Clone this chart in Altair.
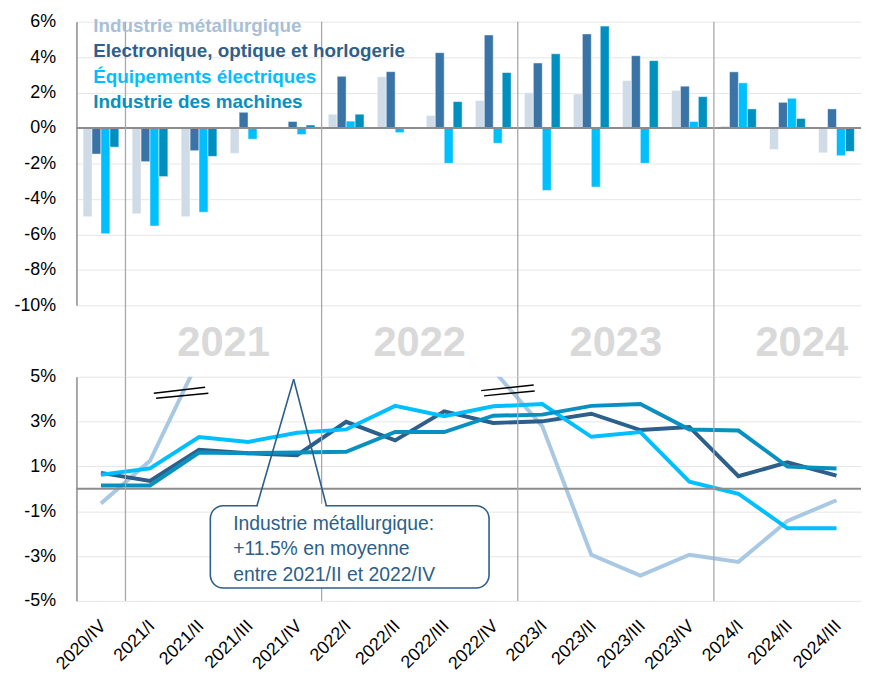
import altair as alt
import pandas as pd

quarters = ["2020/IV", "2021/I", "2021/II", "2021/III", "2021/IV",
            "2022/I", "2022/II", "2022/III", "2022/IV",
            "2023/I", "2023/II", "2023/III", "2023/IV",
            "2024/I", "2024/II", "2024/III"]

series = ["Industrie métallurgique", "Electronique, optique et horlogerie",
          "Équipements électriques", "Industrie des machines"]

# Top panel: bars (%)
metal_bar = [-5.0, -4.84, -5.0, -1.43, 0.0, 0.78, 2.89, 0.71, 1.55, 1.99, 1.92, 2.68, 2.12, 0.11, -1.21, -1.4]
elec_bar = [-1.47, -1.9, -1.28, 0.89, 0.37, 2.92, 3.18, 4.25, 5.25, 3.67, 5.31, 4.08, 2.36, 3.17, 1.45, 1.08]
equip_bar = [-5.96, -5.53, -4.75, -0.63, -0.37, 0.39, -0.26, -1.99, -0.86, -3.52, -3.33, -1.99, 0.37, 2.55, 1.68, -1.56]
mach_bar = [-1.08, -2.74, -1.6, 0.0, 0.17, 0.78, -0.05, 1.49, 3.13, 4.19, 5.75, 3.8, 1.77, 1.08, 0.54, -1.32]

# Bottom panel: lines (%)
metal_line = [-0.66, 1.25, 5.8, 11.0, 15.0, 17.0, 14.0, 12.0, 5.3, 2.79, -2.94, -3.87, -2.94, -3.26, -1.43, -0.51]
elec_line = [0.71, 0.35, 1.74, 1.59, 1.5, 2.99, 2.16, 3.46, 2.94, 3.01, 3.35, 2.62, 2.76, 0.56, 1.18, 0.59]
equip_line = [0.63, 0.91, 2.31, 2.09, 2.5, 2.65, 3.7, 3.24, 3.68, 3.78, 2.32, 2.53, 0.32, -0.22, -1.76, -1.76]
mach_line = [0.15, 0.15, 1.62, 1.59, 1.62, 1.65, 2.54, 2.53, 3.26, 3.31, 3.7, 3.78, 2.65, 2.6, 0.99, 0.91]

top_ticks = [6, 4, 2, 0, -2, -4, -6, -8, -10]
bottom_ticks = [5, 3, 1, -1, -3, -5]
years = ["2021", "2022", "2023"]
year_anchor = ["2021/III", "2022/III", "2023/III"]
year_last = ["2024"]
year_last_anchor = ["2024/II"]
separators = ["2021/I", "2022/I", "2023/I", "2024/I"]
note_lines = ["Industrie métallurgique:", "+11.5% en moyenne", "entre 2021/II et 2022/IV"]

bar_colors = ["#CFDBE6", "#3A74A6", "#00BFFF", "#0090BF"]
line_colors = ["#A8C8E3", "#2C5F8A", "#00BFFF", "#0890C0"]
text_colors = ["#A7C0D8", "#2F5F8C", "#00BFFF", "#0890C0"]

W, H1, H2, GAP = 791, 286, 226, 72
PI, PO = 0.27, 0.135
STEP = W / (len(quarters) - PI + 2 * PO)
HALF_GAP = PI * STEP / 2
FONT = "Liberation Sans"

x_scale = alt.Scale(domain=quarters, paddingInner=PI, paddingOuter=PO)

bar_rows = []
for s, vals in zip(series, [metal_bar, elec_bar, equip_bar, mach_bar]):
    for q, v in zip(quarters, vals):
        bar_rows.append({"q": q, "s": s, "v": v})
bars_df = pd.DataFrame(bar_rows)

one = pd.DataFrame({"a": [0]})

# ---------- top panel ----------
y_top = alt.Scale(domain=[-10, 6], nice=False, zero=False)
y_top_axis = alt.Axis(values=top_ticks, labelExpr="datum.value + '%'", grid=True,
                      gridColor="#E6E6E6", gridWidth=1, domainColor="#A6A6A6", domainWidth=2,
                      ticks=False, labelFontSize=18, labelFont=FONT, labelColor="#000000",
                      labelPadding=21, title=None, orient="left", labelOverlap=False)

bars = alt.Chart(bars_df).mark_bar(stroke="white", strokeWidth=0.5).encode(
    x=alt.X("q:N", sort=quarters, scale=x_scale, axis=None),
    xOffset=alt.XOffset("s:N", sort=series, scale=alt.Scale(domain=series, paddingInner=0, paddingOuter=0)),
    y=alt.Y("v:Q", scale=y_top, axis=y_top_axis),
    color=alt.Color("s:N", scale=alt.Scale(domain=series, range=bar_colors), legend=None),
)

zero_top = alt.Chart(one).mark_rule(color="#8C8C8C", strokeWidth=2).encode(
    y=alt.datum(0, scale=y_top, axis=y_top_axis)
)

sep_top = alt.Chart(pd.DataFrame({"q": separators})).mark_rule(
    color="#A8A8A8", strokeWidth=1.3, xOffset=-HALF_GAP
).encode(
    x=alt.X("q:N", sort=quarters, scale=x_scale, axis=None, bandPosition=0),
    y=alt.value(0), y2=alt.value(H1 + GAP),
)

year_txt = alt.Chart(pd.DataFrame({"q": year_anchor, "t": years})).mark_text(
    font=FONT, fontSize=42, fontWeight="bold", color="#D9D9D9", baseline="middle", align="center",
    dx=-HALF_GAP
).encode(
    x=alt.X("q:N", sort=quarters, scale=x_scale, axis=None, bandPosition=0),
    y=alt.value(324), text="t:N",
)
year_txt2 = alt.Chart(pd.DataFrame({"q": year_last_anchor, "t": year_last})).mark_text(
    font=FONT, fontSize=42, fontWeight="bold", color="#D9D9D9", baseline="middle", align="center"
).encode(
    x=alt.X("q:N", sort=quarters, scale=x_scale, axis=None, bandPosition=0.9),
    y=alt.value(324), text="t:N",
)

legend_layers = []
for i, (s, c) in enumerate(zip(series, text_colors)):
    legend_layers.append(
        alt.Chart(pd.DataFrame({"t": [s]})).mark_text(
            font=FONT, fontSize=19, fontWeight="bold", color=c, align="left", baseline="middle"
        ).encode(x=alt.value(17), y=alt.value(4 + i * 25.7), text="t:N")
    )

top = alt.layer(bars, zero_top, sep_top, year_txt, year_txt2, *legend_layers).properties(width=W, height=H1)

# ---------- bottom panel ----------
y_bot = alt.Scale(domain=[-5, 5], nice=False, zero=False)
y_bot_axis = alt.Axis(values=bottom_ticks, labelExpr="datum.value + '%'", grid=True,
                      gridColor="#E6E6E6", gridWidth=1, domainColor="#A6A6A6", domainWidth=2,
                      ticks=False, labelFontSize=18, labelFont=FONT, labelColor="#000000",
                      labelPadding=21, title=None, orient="left", labelOverlap=False)
x_bot_axis = alt.Axis(labelAngle=-45, labelAlign="right", labelBaseline="top", labelFontSize=18,
                      labelFont=FONT, labelColor="#000000", ticks=False, domain=False,
                      labelPadding=16, labelOffset=-4, title=None, grid=False, labelOverlap=False)

x_bot = alt.X("q:N", sort=quarters, scale=x_scale, axis=x_bot_axis)

line_layers = []
for s, vals, c in zip(series, [metal_line, elec_line, equip_line, mach_line], line_colors):
    df = pd.DataFrame({"q": quarters, "v": vals})
    line_layers.append(
        alt.Chart(df).mark_line(color=c, strokeWidth=4, clip=True, strokeJoin="miter").encode(
            x=x_bot, y=alt.Y("v:Q", scale=y_bot, axis=y_bot_axis))
    )

zero_bot = alt.Chart(one).mark_rule(color="#8C8C8C", strokeWidth=2).encode(
    y=alt.datum(0, scale=y_bot, axis=y_bot_axis)
)
sep_bot = alt.Chart(pd.DataFrame({"q": separators})).mark_rule(
    color="#A8A8A8", strokeWidth=1.3, xOffset=-HALF_GAP
).encode(
    x=alt.X("q:N", sort=quarters, scale=x_scale, axis=x_bot_axis, bandPosition=0),
    y=alt.value(0), y2=alt.value(H2),
)

breaks = []
for (x1, y1, x2, y2) in [(78, 16.6, 129.7, 10.6), (80.3, 21.6, 133, 16.6),
                         (408, 14, 461, 8.3), (411, 19.3, 462, 14.3)]:
    breaks.append(alt.Chart(one).mark_rule(color="#000000", strokeWidth=1.5).encode(
        x=alt.value(x1), y=alt.value(y1), x2=alt.value(x2), y2=alt.value(y2)))

NOTE_C = "#2C5F8A"
box = alt.Chart(one).mark_rect(fill="white", stroke=NOTE_C, strokeWidth=1.6, cornerRadius=13).encode(
    x=alt.value(135), x2=alt.value(416), y=alt.value(130), y2=alt.value(213))
gap_cover = alt.Chart(one).mark_rule(color="white", strokeWidth=4).encode(
    x=alt.value(183), x2=alt.value(251), y=alt.value(130), y2=alt.value(130))
tri1 = alt.Chart(one).mark_rule(color=NOTE_C, strokeWidth=1.6).encode(
    x=alt.value(182), y=alt.value(130), x2=alt.value(219), y2=alt.value(2.5))
tri2 = alt.Chart(one).mark_rule(color=NOTE_C, strokeWidth=1.6).encode(
    x=alt.value(219), y=alt.value(2.5), x2=alt.value(252), y2=alt.value(130))
note_txt = []
for i, t in enumerate(note_lines):
    note_txt.append(alt.Chart(pd.DataFrame({"t": [t]})).mark_text(
        font=FONT, fontSize=19.5, color=NOTE_C, align="left", baseline="middle"
    ).encode(x=alt.value(158), y=alt.value(148.5 + i * 25.5), text="t:N"))

bottom = alt.layer(*line_layers, zero_bot, sep_bot, *breaks, box, gap_cover, tri1, tri2, *note_txt).properties(
    width=W, height=H2)

chart = alt.vconcat(top, bottom, spacing=GAP, bounds="flush").resolve_scale(
    x="independent", y="independent", color="independent"
).properties(
    padding={"left": 5, "top": 2, "right": 0, "bottom": 5},
    background="white",
).configure_view(stroke=None)

chart.save("out.html", embed_options={"renderer": "svg", "actions": False})
